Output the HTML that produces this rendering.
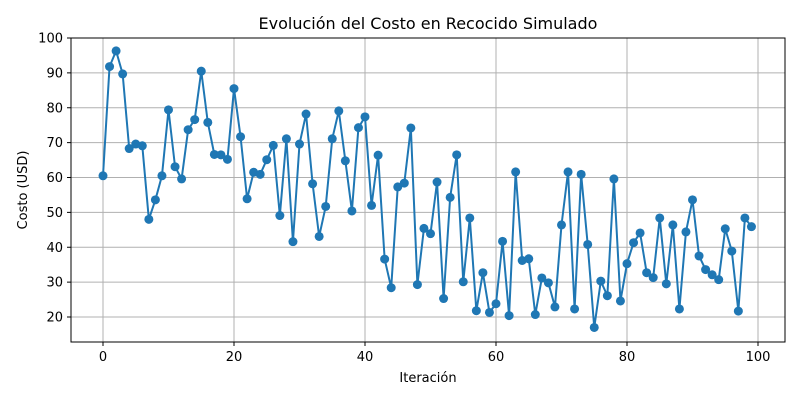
<!DOCTYPE html>
<html><head><meta charset="utf-8"><style>
body{margin:0;background:#fff;}
svg{display:block;font-family:"DejaVu Sans","Liberation Sans",sans-serif;}
</style></head><body>
<svg id="chart" width="800" height="400">
<text x="428" y="29" text-anchor="middle" font-size="16">Evolución del Costo en Recocido Simulado</text>
<g id="grid"></g>
<g id="series"></g>
<rect x="71" y="38" width="714" height="304" fill="none" stroke="#000" stroke-width="1"/>
<g id="ticks" font-size="13"></g>
<text x="428" y="382" text-anchor="middle" font-size="13">Iteración</text>
<text x="27" y="190" text-anchor="middle" font-size="13" transform="rotate(-90 27 190)">Costo (USD)</text>
</svg>
<script>
const costValues=[60.5,91.8,96.3,89.7,68.3,69.6,69.1,48.0,53.6,60.5,79.4,63.1,59.6,73.7,76.6,90.5,75.8,66.6,66.5,65.2,85.5,71.7,53.9,61.5,60.9,65.1,69.2,49.1,71.1,41.6,69.6,78.2,58.2,43.1,51.7,71.1,79.1,64.8,50.4,74.3,77.4,52.0,66.4,36.6,28.4,57.3,58.4,74.2,29.3,45.4,43.9,58.7,25.3,54.3,66.5,30.1,48.4,21.8,32.7,21.3,23.8,41.7,20.4,61.6,36.2,36.7,20.7,31.2,29.8,22.9,46.4,61.6,22.3,60.9,40.8,17.0,30.3,26.1,59.6,24.6,35.3,41.3,44.1,32.7,31.3,48.4,29.5,46.4,22.3,44.4,53.6,37.5,33.6,32.1,30.7,45.3,38.9,21.7,48.4,45.9];
const xTicks=[0,20,40,60,80,100];
const yTicks=[20,30,40,50,60,70,80,90,100];
const NS="http://www.w3.org/2000/svg";
function xs(i){return 103+6.55*i;}
function ys(v){return 317-(v-20)*3.4875;}
function mk(tag,attrs,parent){const e=document.createElementNS(NS,tag);for(const k in attrs)e.setAttribute(k,attrs[k]);parent.appendChild(e);return e;}
const grid=document.getElementById('grid'),ticks=document.getElementById('ticks'),series=document.getElementById('series');
xTicks.forEach(t=>{
  const g=mk('line',{x1:xs(t),x2:xs(t),y1:38,y2:342,stroke:'#b0b0b0','stroke-width':1},grid);
  
  
  mk('line',{x1:xs(t),x2:xs(t),y1:342,y2:346,stroke:'#000'},ticks);
  const l=mk('text',{x:xs(t),y:361,'text-anchor':'middle'},ticks);l.textContent=t;
  
  
});
yTicks.forEach(t=>{
  const g=mk('line',{x1:71,x2:785,y1:ys(t),y2:ys(t),stroke:'#b0b0b0','stroke-width':1},grid);
  
  
  mk('line',{x1:67,x2:71,y1:ys(t),y2:ys(t),stroke:'#000'},ticks);
  const l=mk('text',{x:63,y:ys(t)+4.5,'text-anchor':'end'},ticks);l.textContent=t;
  
  
});
const pl=mk('polyline',{points:costValues.map((v,i)=>xs(i)+','+ys(v)).join(' '),fill:'none',stroke:'#1f77b4','stroke-width':2},series);


costValues.forEach((v,i)=>{
  const c=mk('circle',{cx:xs(i),cy:ys(v),r:4.5,fill:'#1f77b4'},series);
  
  
});
</script>
</body></html>
